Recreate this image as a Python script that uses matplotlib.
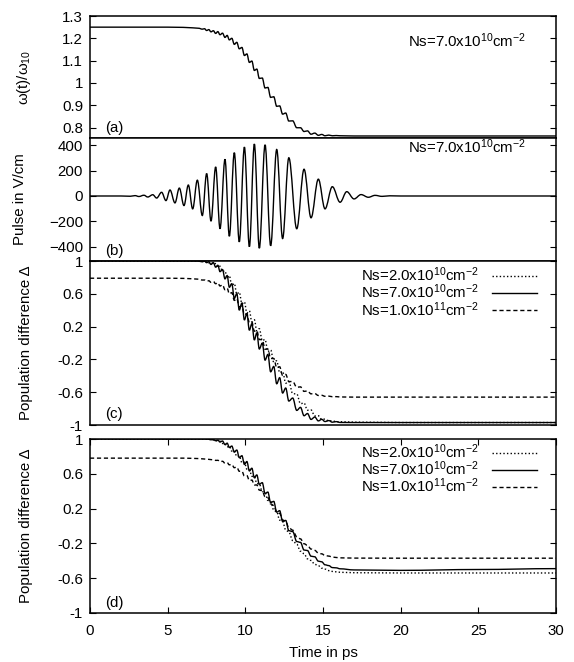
import numpy as np
import matplotlib
matplotlib.use("Agg")
import matplotlib.pyplot as plt
from matplotlib.path import Path
from matplotlib.patches import PathPatch
from matplotlib.lines import Line2D

plt.rcParams['font.family'] = ['Liberation Sans', 'DejaVu Sans']
plt.rcParams['mathtext.fontset'] = 'custom'
plt.rcParams['mathtext.rm'] = 'Liberation Sans'
plt.rcParams['mathtext.it'] = 'Liberation Sans:italic'

# time grid of the ripple extrema (ps)
t_grid = [7.23, 7.37, 7.51, 7.65, 7.79, 7.94, 8.09, 8.23, 8.37, 8.53,
          8.69, 8.83, 8.97, 9.13, 9.29, 9.45, 9.61, 9.78, 9.94, 10.10,
          10.26, 10.42, 10.58, 10.74, 10.90, 11.09, 11.27, 11.45, 11.63, 11.83,
          12.02, 12.21, 12.40, 12.60, 12.80, 13.05, 13.31, 13.55, 13.78, 14.00,
          14.23, 14.47, 14.70, 14.92, 15.13, 15.37, 15.60, 15.85, 16.10]

#(a) omega(t)/omega10
t_a = [0, 5, 6, 6.6, 7.0] + t_grid + [17, 30]
omega = [1.25, 1.25, 1.249, 1.247, 1.245,
         1.241, 1.243, 1.235, 1.239, 1.229, 1.234, 1.222, 1.230, 1.216, 1.223,
         1.204, 1.213, 1.193, 1.200, 1.173, 1.182, 1.153, 1.159, 1.123, 1.130,
         1.092, 1.098, 1.056, 1.062, 1.020, 1.022, 0.977, 0.980, 0.935, 0.938,
         0.895, 0.897, 0.860, 0.865, 0.829, 0.830, 0.799, 0.799, 0.782, 0.785,
         0.770, 0.775, 0.765, 0.769, 0.763, 0.766, 0.763, 0.764, 0.763,
         0.762, 0.762]

#(b) pulse extrema (ps, V/cm)
t_pulse = [0, 2.0, 2.6, 2.9, 3.15, 3.47, 3.72, 4.04, 4.29, 4.61, 4.89, 5.15,
           5.47, 5.75, 6.05, 6.33, 6.61, 6.91, 7.23, 7.51, 7.79, 8.09, 8.37,
           8.69, 8.97, 9.29, 9.61, 9.94, 10.26, 10.58, 10.90, 11.27, 11.63,
           12.02, 12.40, 12.80, 13.31, 13.78, 14.23, 14.70, 15.13, 15.60,
           16.10, 16.53, 17.00, 17.45, 17.92, 18.35, 18.80, 19.30, 20.0, 30.0]
pulse = [0, 0, -2, 3, -4, 6, -8, 10, -16, 29, -36, 47,
         -54, 62, -75, 86, -101, 124, -153, 176, -197, 228, -257,
         288, -316, 340, -360, 384, -398, 408, -410, 402, -390,
         365, -334, 300, -257, 210, -171, 132, -101, 73,
         -49, 34, -23, 11, -10, 5, -3, 1.5, 0, 0]

t_cd = [0, 5, 6, 6.5, 7.0] + t_grid + [17, 20, 25, 30]

#(c) population difference
c_2e10 = [1.0, 1.0, 1.0, 1.0, 0.999,
          0.998, 0.989, 0.995, 0.977, 0.986, 0.962, 0.969, 0.923, 0.936, 0.873,
          0.879, 0.791, 0.822, 0.698, 0.727, 0.596, 0.620, 0.479, 0.502, 0.366,
          0.392, 0.257, 0.283, 0.148, 0.174, 0.028, 0.043, -0.102, -0.084, -0.232,
          -0.217, -0.361, -0.346, -0.490, -0.470, -0.618, -0.621, -0.740, -0.731, -0.820,
          -0.817, -0.890, -0.888, -0.932, -0.927, -0.951, -0.948, -0.960, -0.960,
          -0.965, -0.97, -0.97, -0.97]
c_7e10 = [1.0, 1.0, 1.0, 1.0, 0.998,
          0.990, 0.998, 0.980, 0.991, 0.958, 0.980, 0.925, 0.948, 0.870, 0.896,
          0.782, 0.822, 0.680, 0.723, 0.544, 0.602, 0.401, 0.488, 0.281, 0.360,
          0.156, 0.236, 0.037, 0.124, -0.073, -0.002, -0.209, -0.140, -0.351, -0.286,
          -0.497, -0.423, -0.610, -0.549, -0.708, -0.671, -0.822, -0.785, -0.887, -0.860,
          -0.932, -0.903, -0.950, -0.931, -0.958, -0.946, -0.966, -0.959, -0.969,
          -0.97, -0.97, -0.97, -0.97]
c_1e11 = [0.79, 0.79, 0.788, 0.784, 0.778,
          0.768, 0.768, 0.755, 0.759, 0.740, 0.750, 0.723, 0.734, 0.695, 0.710,
          0.650, 0.667, 0.600, 0.614, 0.520, 0.542, 0.439, 0.452, 0.347, 0.358,
          0.247, 0.256, 0.144, 0.153, 0.042, 0.041, -0.076, -0.074, -0.189, -0.189,
          -0.300, -0.290, -0.395, -0.383, -0.470, -0.470, -0.540, -0.535, -0.590, -0.585,
          -0.620, -0.617, -0.640, -0.638, -0.650, -0.648, -0.655, -0.654, -0.658,
          -0.66, -0.66, -0.66, -0.66]

#(d) population difference
d_2e10 = [1.0, 1.0, 1.0, 1.0, 1.0,
          1.0, 1.0, 0.999, 0.996, 0.994, 0.989, 0.988, 0.971, 0.974, 0.948,
          0.947, 0.908, 0.918, 0.861, 0.866, 0.799, 0.806, 0.728, 0.733, 0.654,
          0.652, 0.571, 0.569, 0.488, 0.486, 0.395, 0.384, 0.294, 0.281, 0.181,
          0.164, 0.067, 0.050, -0.046, -0.068, -0.167, -0.209, -0.290, -0.318, -0.377,
          -0.396, -0.441, -0.456, -0.485, -0.496, -0.513, -0.522, -0.527, -0.532,
          -0.537, -0.54, -0.54, -0.54]
d_7e10 = [1.0, 1.0, 1.0, 1.0, 1.0,
          1.0, 1.0, 0.999, 0.997, 0.991, 0.994, 0.980, 0.987, 0.965, 0.977,
          0.936, 0.952, 0.903, 0.919, 0.849, 0.873, 0.786, 0.808, 0.708, 0.741,
          0.633, 0.664, 0.556, 0.587, 0.479, 0.498, 0.374, 0.390, 0.269, 0.283,
          0.159, 0.176, 0.053, 0.064, -0.054, -0.064, -0.179, -0.188, -0.276, -0.282,
          -0.347, -0.354, -0.404, -0.412, -0.446, -0.455, -0.478, -0.481, -0.492,
          -0.505, -0.51, -0.50, -0.49]
d_1e11 = [0.78, 0.78, 0.78, 0.778, 0.775,
          0.772, 0.770, 0.768, 0.766, 0.763, 0.761, 0.754, 0.755, 0.740, 0.744,
          0.722, 0.728, 0.703, 0.707, 0.670, 0.677, 0.629, 0.629, 0.575, 0.579,
          0.523, 0.528, 0.471, 0.472, 0.413, 0.405, 0.336, 0.326, 0.254, 0.236,
          0.160, 0.145, 0.069, 0.052, -0.019, -0.048, -0.123, -0.148, -0.204, -0.222,
          -0.265, -0.280, -0.311, -0.320, -0.340, -0.346, -0.357, -0.362, -0.366,
          -0.369, -0.37, -0.37, -0.37]

ns_labels = ['Ns=2.0x10$^{10}$cm$^{-2}$', 'Ns=7.0x10$^{10}$cm$^{-2}$',
             'Ns=1.0x10$^{11}$cm$^{-2}$']
styles = [(0, (1, 1.6)), '-', (0, (3, 2))]


def smooth_line(ax, t, v, **kw):
    # cubic bezier between read points, flat tangent at each point
    verts = [(t[0], v[0])]
    codes = [Path.MOVETO]
    for i in range(1, len(t)):
        dt = t[i] - t[i - 1]
        verts += [(t[i - 1] + 0.363 * dt, v[i - 1]),
                  (t[i] - 0.363 * dt, v[i]), (t[i], v[i])]
        codes += [Path.CURVE4] * 3
    ax.add_patch(PathPatch(Path(verts, codes), fill=False, **kw))


fs = 10.8
fig = plt.figure(figsize=(5.74, 6.62), dpi=100)
W = 466 / 574
axa = fig.add_axes([90 / 574, 1 - 138 / 662, W, 122 / 662])
axb = fig.add_axes([90 / 574, 1 - 261 / 662, W, 123 / 662])
axc = fig.add_axes([90 / 574, 1 - 425 / 662, W, 164 / 662])
axd = fig.add_axes([90 / 574, 1 - 613 / 662, W, 174 / 662])

smooth_line(axa, t_a, omega, ec='k', lw=1.0)
smooth_line(axb, t_pulse, pulse, ec='k', lw=1.0)
for ax, curves, top in [(axc, [c_2e10, c_7e10, c_1e11], 1.035),
                        (axd, [d_2e10, d_7e10, d_1e11], 1.04)]:
    for ys, ls in zip(curves, styles):
        smooth_line(ax, t_cd, ys, ec='k', lw=1.0, ls=ls)
    handles = [Line2D([], [], color='k', lw=1.0, ls=ls) for ls in styles]
    ax.legend(handles, ns_labels, loc='upper right', bbox_to_anchor=(0.982, top),
              frameon=False, markerfirst=False, fontsize=fs, handlelength=3.0,
              handletextpad=0.9, labelspacing=-0.1, borderpad=0.2)

axa.set_ylim(0.753, 1.3)
axa.set_yticks([0.8, 0.9, 1.0, 1.1, 1.2, 1.3])
axa.set_yticklabels(['0.8', '0.9', '1', '1.1', '1.2', '1.3'])
axb.set_ylim(-510, 455)
axb.set_yticks([-400, -200, 0, 200, 400])
for ax in (axc, axd):
    ax.set_ylim(-1, 1)
    ax.set_yticks([-1, -0.6, -0.2, 0.2, 0.6, 1])
    ax.set_yticklabels(['-1', '-0.6', '-0.2', '0.2', '0.6', '1'])

panel_labels = ['(a)', '(b)', '(c)', '(d)']
label_y = [0.797, -430, -0.86, -0.88]
for ax, lab, ly in zip([axa, axb, axc, axd], panel_labels, label_y):
    ax.set_xlim(0, 30)
    ax.tick_params(direction='in', labelsize=fs, length=4, width=0.8,
                   left=True, right=True, top=(ax is axd), bottom=(ax is axd),
                   labelbottom=(ax is axd), pad=5)
    for s in ax.spines.values():
        s.set_linewidth(1.1)
    ax.text(1.0, ly, lab, fontsize=fs, va='center')

axd.set_xticks([0, 5, 10, 15, 20, 25, 30])
axd.tick_params(axis='x', pad=8)
axd.set_xlabel('Time in ps', fontsize=fs, labelpad=6)

axa.text(0.935, 0.8, 'Ns=7.0x10$^{10}$cm$^{-2}$', transform=axa.transAxes,
         ha='right', va='center', fontsize=fs)
axb.text(0.935, 0.93, 'Ns=7.0x10$^{10}$cm$^{-2}$', transform=axb.transAxes,
         ha='right', va='center', fontsize=fs)

axa.set_ylabel(r'ω(t)/ω$_{10}$', fontsize=fs)
axb.set_ylabel('Pulse in V/cm', fontsize=fs)
axc.set_ylabel('Population difference Δ', fontsize=fs)
axd.set_ylabel('Population difference Δ', fontsize=fs)
axa.yaxis.set_label_coords(-0.122, 0.5)
axb.yaxis.set_label_coords(-0.135, 0.5)
axc.yaxis.set_label_coords(-0.122, 0.5)
axd.yaxis.set_label_coords(-0.122, 0.5)

fig.savefig('out.png', dpi=100)
